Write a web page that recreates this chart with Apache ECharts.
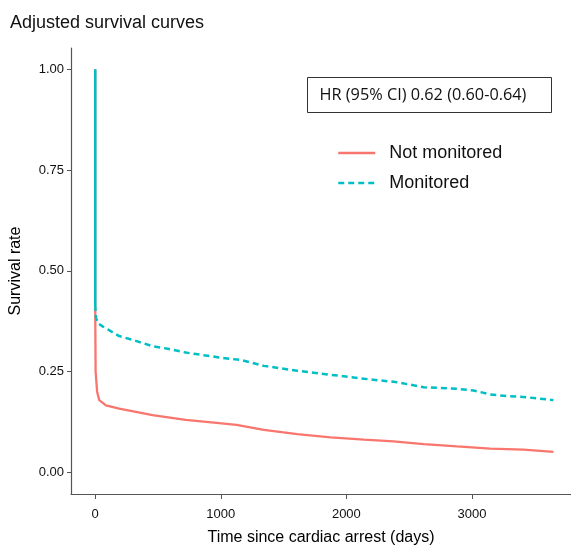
<!DOCTYPE html>
<html>
<head>
<meta charset="utf-8">
<script src="https://cdn.jsdelivr.net/npm/echarts@6/dist/echarts.min.js"></script>
<style>html,body{margin:0;padding:0;background:#fff}#c{width:571px;height:551px}</style>
</head>
<body>
<div id="c"></div>
<script>
// ---- data ----
var seriesNames = ['Not monitored', 'Monitored'];
var notMonTime = [0, 0, 3, 15, 32, 85, 191, 324, 456, 721, 986, 1125, 1343, 1609, 1874, 2141, 2375, 2616, 2881, 3146, 3410, 3649];
var notMonSurv = [1.0, 0.40, 0.25, 0.20, 0.179, 0.166, 0.158, 0.150, 0.142, 0.130, 0.122, 0.1175, 0.105, 0.0947, 0.0864, 0.0808, 0.0767, 0.070, 0.064, 0.0588, 0.0563, 0.0507];
var monDropTime = [0, 0];
var monDropSurv = [1.0, 0.415];
var monTime = [0, 5, 20, 59, 191, 324, 456, 588, 721, 854, 986, 1172, 1343, 1609, 1874, 2141, 2404, 2616, 2881, 3013, 3146, 3278, 3410, 3649];
var monSurv = [0.415, 0.385, 0.37, 0.362, 0.338, 0.326, 0.313, 0.306, 0.297, 0.291, 0.285, 0.278, 0.264, 0.252, 0.242, 0.232, 0.2235, 0.211, 0.207, 0.203, 0.193, 0.189, 0.187, 0.179];
var xTicks = [0, 1000, 2000, 3000];
var yTicks = [0, 0.25, 0.5, 0.75, 1.0];
var hrText = 'HR (95% CI) 0.62 (0.60-0.64)';

function pairs(t, v) { return t.map(function (x, i) { return [x, v[i]]; }); }

var RED = '#F8766D', TEAL = '#00BFC4';
var chart = echarts.init(document.getElementById('c'), null, {renderer: 'canvas'});
chart.setOption({
  animation: false,
  backgroundColor: '#fff',
  title: {
    text: 'Adjusted survival curves', left: 5, top: 9,
    textStyle: {fontFamily: 'Liberation Sans', fontSize: 18, fontWeight: 'normal', color: '#111'}
  },
  grid: {left: 70, top: 48, right: 0, bottom: 51, containLabel: false},
  xAxis: {
    type: 'value', min: -193, max: 3789,
    name: 'Time since cardiac arrest (days)', nameLocation: 'middle', nameGap: 36,
    nameTextStyle: {fontFamily: 'Liberation Sans', fontSize: 16, color: '#000'},
    axisLine: {show: true, onZero: false, lineStyle: {color: '#555', width: 1.2}},
    axisTick: {show: true, length: 5, customValues: xTicks, lineStyle: {color: '#555'}},
    axisLabel: {customValues: xTicks, margin: 14, fontFamily: 'Liberation Sans', fontSize: 13, color: '#111',
      formatter: function (v) { return String(v); }},
    splitLine: {show: false}
  },
  yAxis: {
    type: 'value', min: -0.054, max: 1.053,
    name: 'Survival rate', nameLocation: 'middle', nameGap: 47,
    nameTextStyle: {fontFamily: 'Liberation Sans', fontSize: 16, color: '#000'},
    axisLine: {show: true, onZero: false, lineStyle: {color: '#555', width: 1.2}},
    axisTick: {show: true, length: 4, customValues: yTicks, lineStyle: {color: '#555'}},
    axisLabel: {customValues: yTicks, margin: 7, fontFamily: 'Liberation Sans', fontSize: 13, color: '#111',
      formatter: function (v) { return v.toFixed(2); }},
    splitLine: {show: false}
  },
  legend: {
    orient: 'vertical', left: 332, top: 139,
    data: seriesNames,
    itemWidth: 37, itemHeight: 14, itemGap: 12,
    itemStyle: {opacity: 0},
    lineStyle: {width: 2.5},
    textStyle: {fontFamily: 'Liberation Sans', fontSize: 18, color: '#111', lineHeight: 18, padding: [0, 0, 0, 9]}
  },
  graphic: [{
    type: 'group', left: 307, top: 77,
    children: [
      {type: 'rect', shape: {x: 0, y: 0, width: 244, height: 35}, style: {fill: '#fff', stroke: '#333', lineWidth: 1}},
      {type: 'text', x: 12, y: 17.5, style: {text: hrText, fontFamily: 'Open Sans', fontSize: 16.3, fill: '#111', verticalAlign: 'middle'}}
    ]
  }],
  series: [
    {name: 'Not monitored', type: 'line', symbol: 'none', data: pairs(notMonTime, notMonSurv),
      lineStyle: {color: RED, width: 2.3}, itemStyle: {color: RED}, z: 2},
    {name: 'Monitored', type: 'line', symbol: 'none', data: pairs(monTime, monSurv),
      lineStyle: {color: TEAL, width: 2.5, type: [6, 4]}, itemStyle: {color: TEAL}, z: 3},
    {name: 'Monitored drop', type: 'line', symbol: 'none', data: pairs(monDropTime, monDropSurv),
      lineStyle: {color: TEAL, width: 2.5}, itemStyle: {color: TEAL}, z: 3}
  ]
});
</script>
</body>
</html>
